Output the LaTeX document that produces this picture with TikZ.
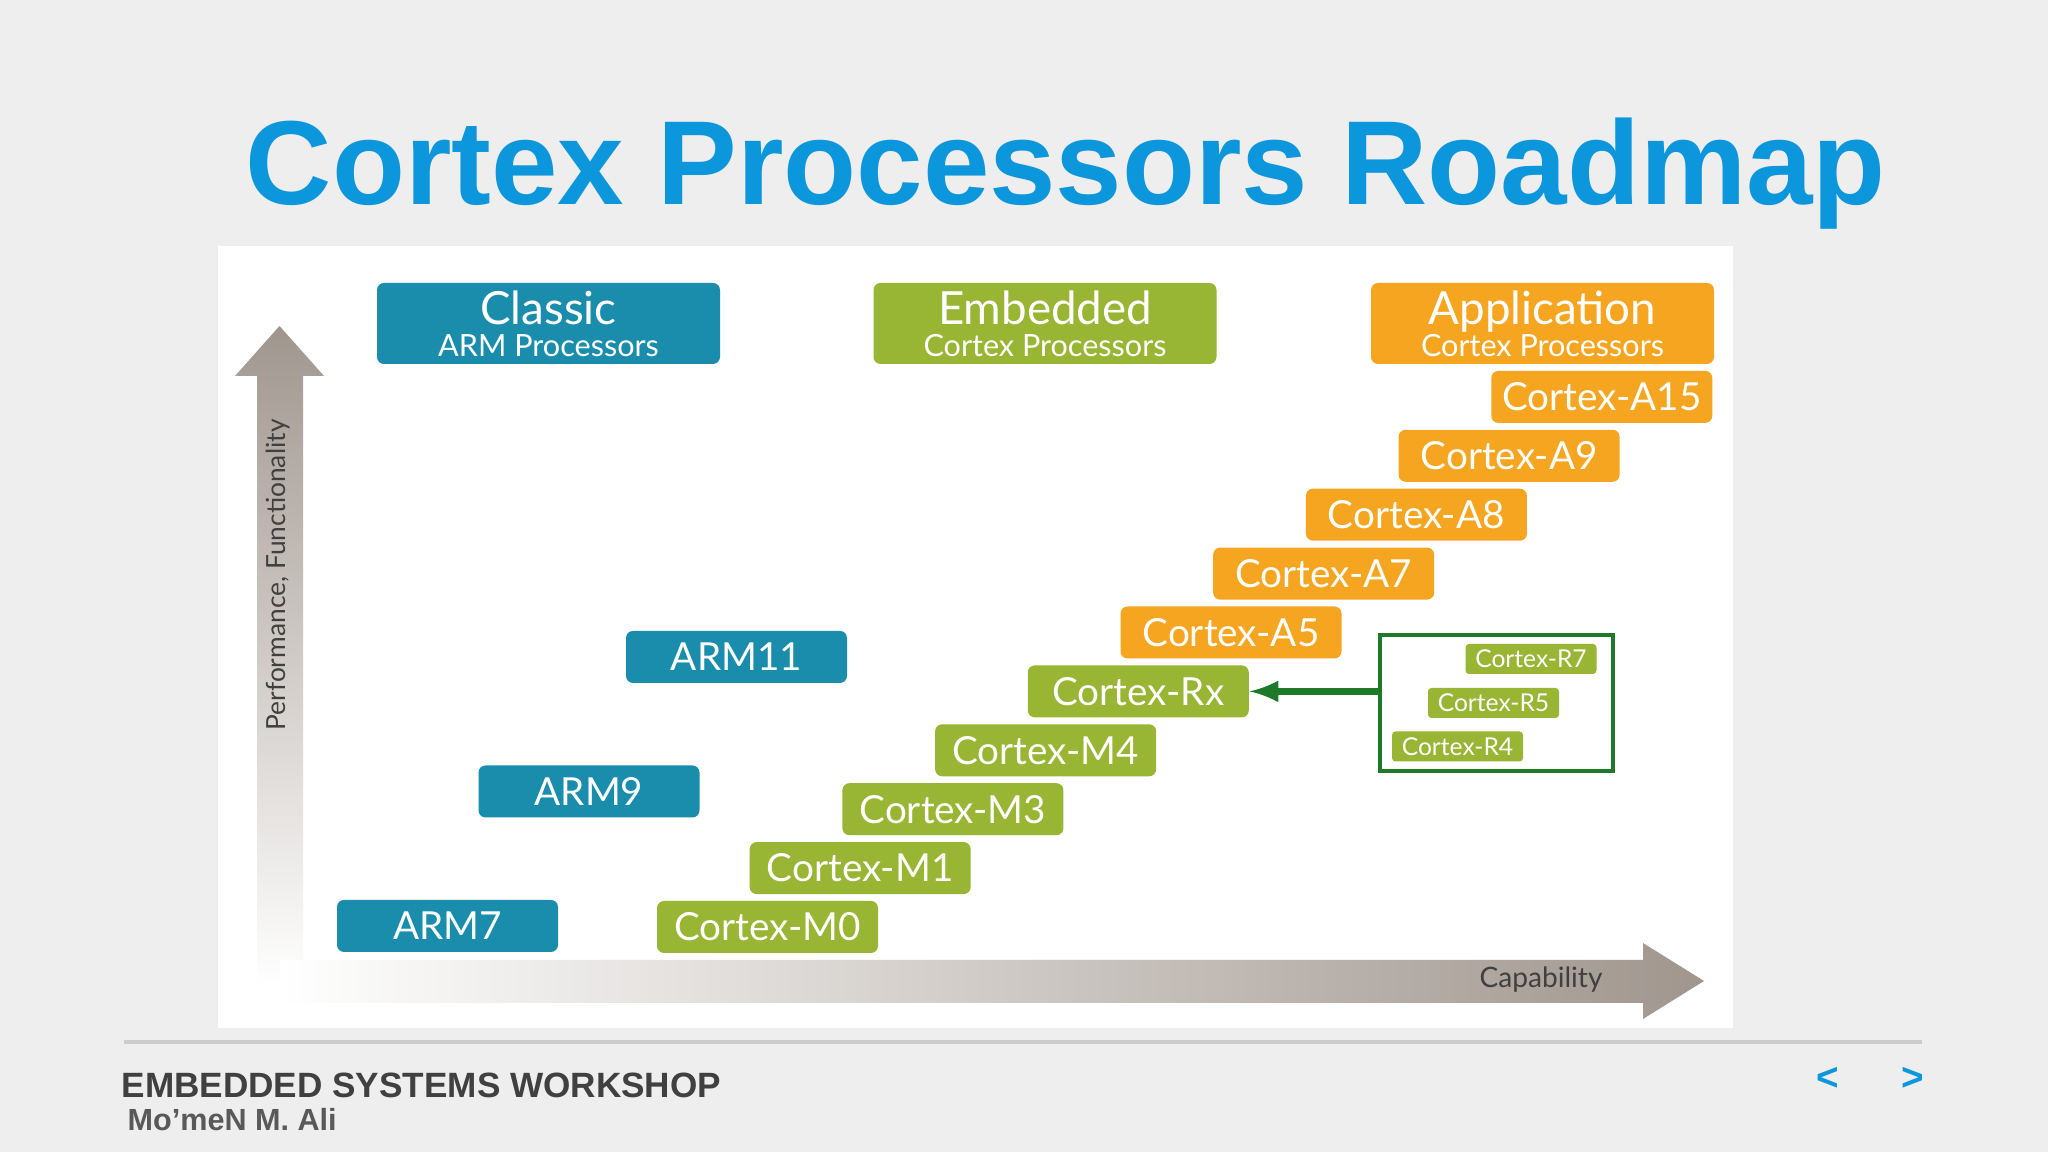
\documentclass[tikz,border=0pt]{standalone}
\usepackage{fontspec}
\setmainfont{Liberation Sans}
\newfontfamily\gillfont{Lato}
\usetikzlibrary{positioning}

\definecolor{titleblue}{RGB}{12,150,220}
\definecolor{armteal}{RGB}{26,141,173}
\definecolor{cortexgreen}{RGB}{152,181,52}
\definecolor{cortexorange}{RGB}{245,165,32}
\definecolor{rgreen}{RGB}{30,122,40}
\definecolor{arrowgray}{RGB}{160,150,142}
\definecolor{slidegray}{RGB}{238,238,238}
\definecolor{footgray}{RGB}{64,64,64}

\tikzstyle{block} = [rectangle, text=white, text centered, minimum width=2.21cm, minimum height=0.52cm, inner sep=0pt, rounded corners=2pt, font=\gillfont\fontsize{11}{12}\selectfont]
\tikzstyle{classic} = [block, fill=armteal]
\tikzstyle{embedded} = [block, fill=cortexgreen]
\tikzstyle{application} = [block, fill=cortexorange]
\tikzstyle{header} = [minimum width=3.43cm, minimum height=0.81cm, align=center, font=\gillfont\fontsize{13}{12}\selectfont]
\tikzstyle{small} = [embedded, minimum width=1.31cm, minimum height=0.30cm, rounded corners=1pt, font=\gillfont\fontsize{7}{7}\selectfont]
\tikzstyle{axislabel} = [text=footgray, font=\gillfont\fontsize{7.5}{8}\selectfont]
\tikzstyle{arrow} = [draw, -latex]
\tikzstyle{line} = [draw]

\newcommand{\subtitle}[1]{{\fontsize{8.7}{9}\selectfont #1}}

\begin{document}
\begin{tikzpicture}[node distance=0.589cm, auto]
    % slide
    \fill[slidegray] (0,0) rectangle (20.48,11.52);
    \fill[white] (2.18,1.24) rectangle (17.33,9.06);
    \node[font=\bfseries\fontsize{34}{34}\selectfont, text=titleblue, anchor=base] (title) at (10.66,9.47) {Cortex Processors Roadmap};

    % axes
    \shade[top color=arrowgray, middle color=arrowgray!85!white, bottom color=white]
        (2.57,1.66) -- (3.03,1.66) -- (3.03,7.76) -- (3.24,7.76) -- (2.795,8.26) -- (2.35,7.76) -- (2.57,7.76) -- cycle;
    \shade[left color=white, right color=arrowgray]
        (2.8,1.49) -- (16.43,1.49) -- (16.43,1.33) -- (17.04,1.71) -- (16.43,2.09) -- (16.43,1.92) -- (2.8,1.92) -- cycle;
    \node[axislabel, rotate=90] (perf) at (2.78,5.77) {Performance, Functionality};
    \node[axislabel, font=\gillfont\fontsize{8}{8}\selectfont] (capability) at (15.41,1.72) {Capability};

    % headers
    \node[classic, header] (classichead) at (5.485,8.285) {Classic\\[-3pt]\subtitle{ARM Processors}};
    \node[embedded, header, right of=classichead, node distance=4.965cm] (embeddedhead) {Embedded\\[-3pt]\subtitle{Cortex Processors}};
    \node[application, header, right of=embeddedhead, node distance=4.975cm] (applicationhead) {Application\\[-3pt]\subtitle{Cortex Processors}};

    % classic
    \node[classic] (arm7) at (4.475,2.26) {ARM7};
    \node[classic, above of=arm7, xshift=1.415cm, node distance=1.345cm] (arm9) {ARM9};
    \node[classic, above of=arm9, xshift=1.475cm, node distance=1.345cm] (arm11) {ARM11};

    % cortex
    \node[embedded] (m0) at (7.675,2.25) {Cortex-M0};
    \node[embedded, above of=m0, xshift=0.927cm] (m1) {Cortex-M1};
    \node[embedded, above of=m1, xshift=0.927cm] (m3) {Cortex-M3};
    \node[embedded, above of=m3, xshift=0.927cm] (m4) {Cortex-M4};
    \node[embedded, above of=m4, xshift=0.927cm] (rx) {Cortex-Rx};
    \node[application, above of=rx, xshift=0.927cm] (a5) {Cortex-A5};
    \node[application, above of=a5, xshift=0.927cm] (a7) {Cortex-A7};
    \node[application, above of=a7, xshift=0.927cm] (a8) {Cortex-A8};
    \node[application, above of=a8, xshift=0.927cm] (a9) {Cortex-A9};
    \node[application, above of=a9, xshift=0.927cm] (a15) {Cortex-A15};

    % real-time
    \node[draw=rgreen, line width=1.2pt, minimum width=2.33cm, minimum height=1.36cm] (rbox) at (14.965,4.49) {};
    \node[small, xshift=-0.03cm] (r5) at (rbox.center) {Cortex-R5};
    \node[small, above of=r5, xshift=0.375cm, node distance=0.44cm] (r7) {Cortex-R7};
    \node[small, below of=r5, xshift=-0.36cm, node distance=0.435cm] (r4) {Cortex-R4};

    % lines
    \draw [arrow, rgreen, line width=1.8pt] (rbox.west |- rx.east) to (rx.east);

    % footer
    \draw [line, black!20, line width=0.9pt] (1.24,1.10) -- (19.22,1.10);
    \node[anchor=base west, inner sep=0pt, text=footgray, font=\bfseries\fontsize{10}{10}\selectfont] (workshop) at (1.21,0.54) {EMBEDDED SYSTEMS WORKSHOP};
    \node[anchor=base west, inner sep=0pt, text=black!65, font=\bfseries\fontsize{8.7}{9}\selectfont] (author) at (1.27,0.21) {Mo’meN M. Ali};
    \node[text=titleblue, font=\bfseries\fontsize{11}{11}\selectfont] (prev) at (18.28,0.73) {<};
    \node[text=titleblue, font=\bfseries\fontsize{11}{11}\selectfont] (next) at (19.13,0.73) {>};
\end{tikzpicture}
\end{document}
